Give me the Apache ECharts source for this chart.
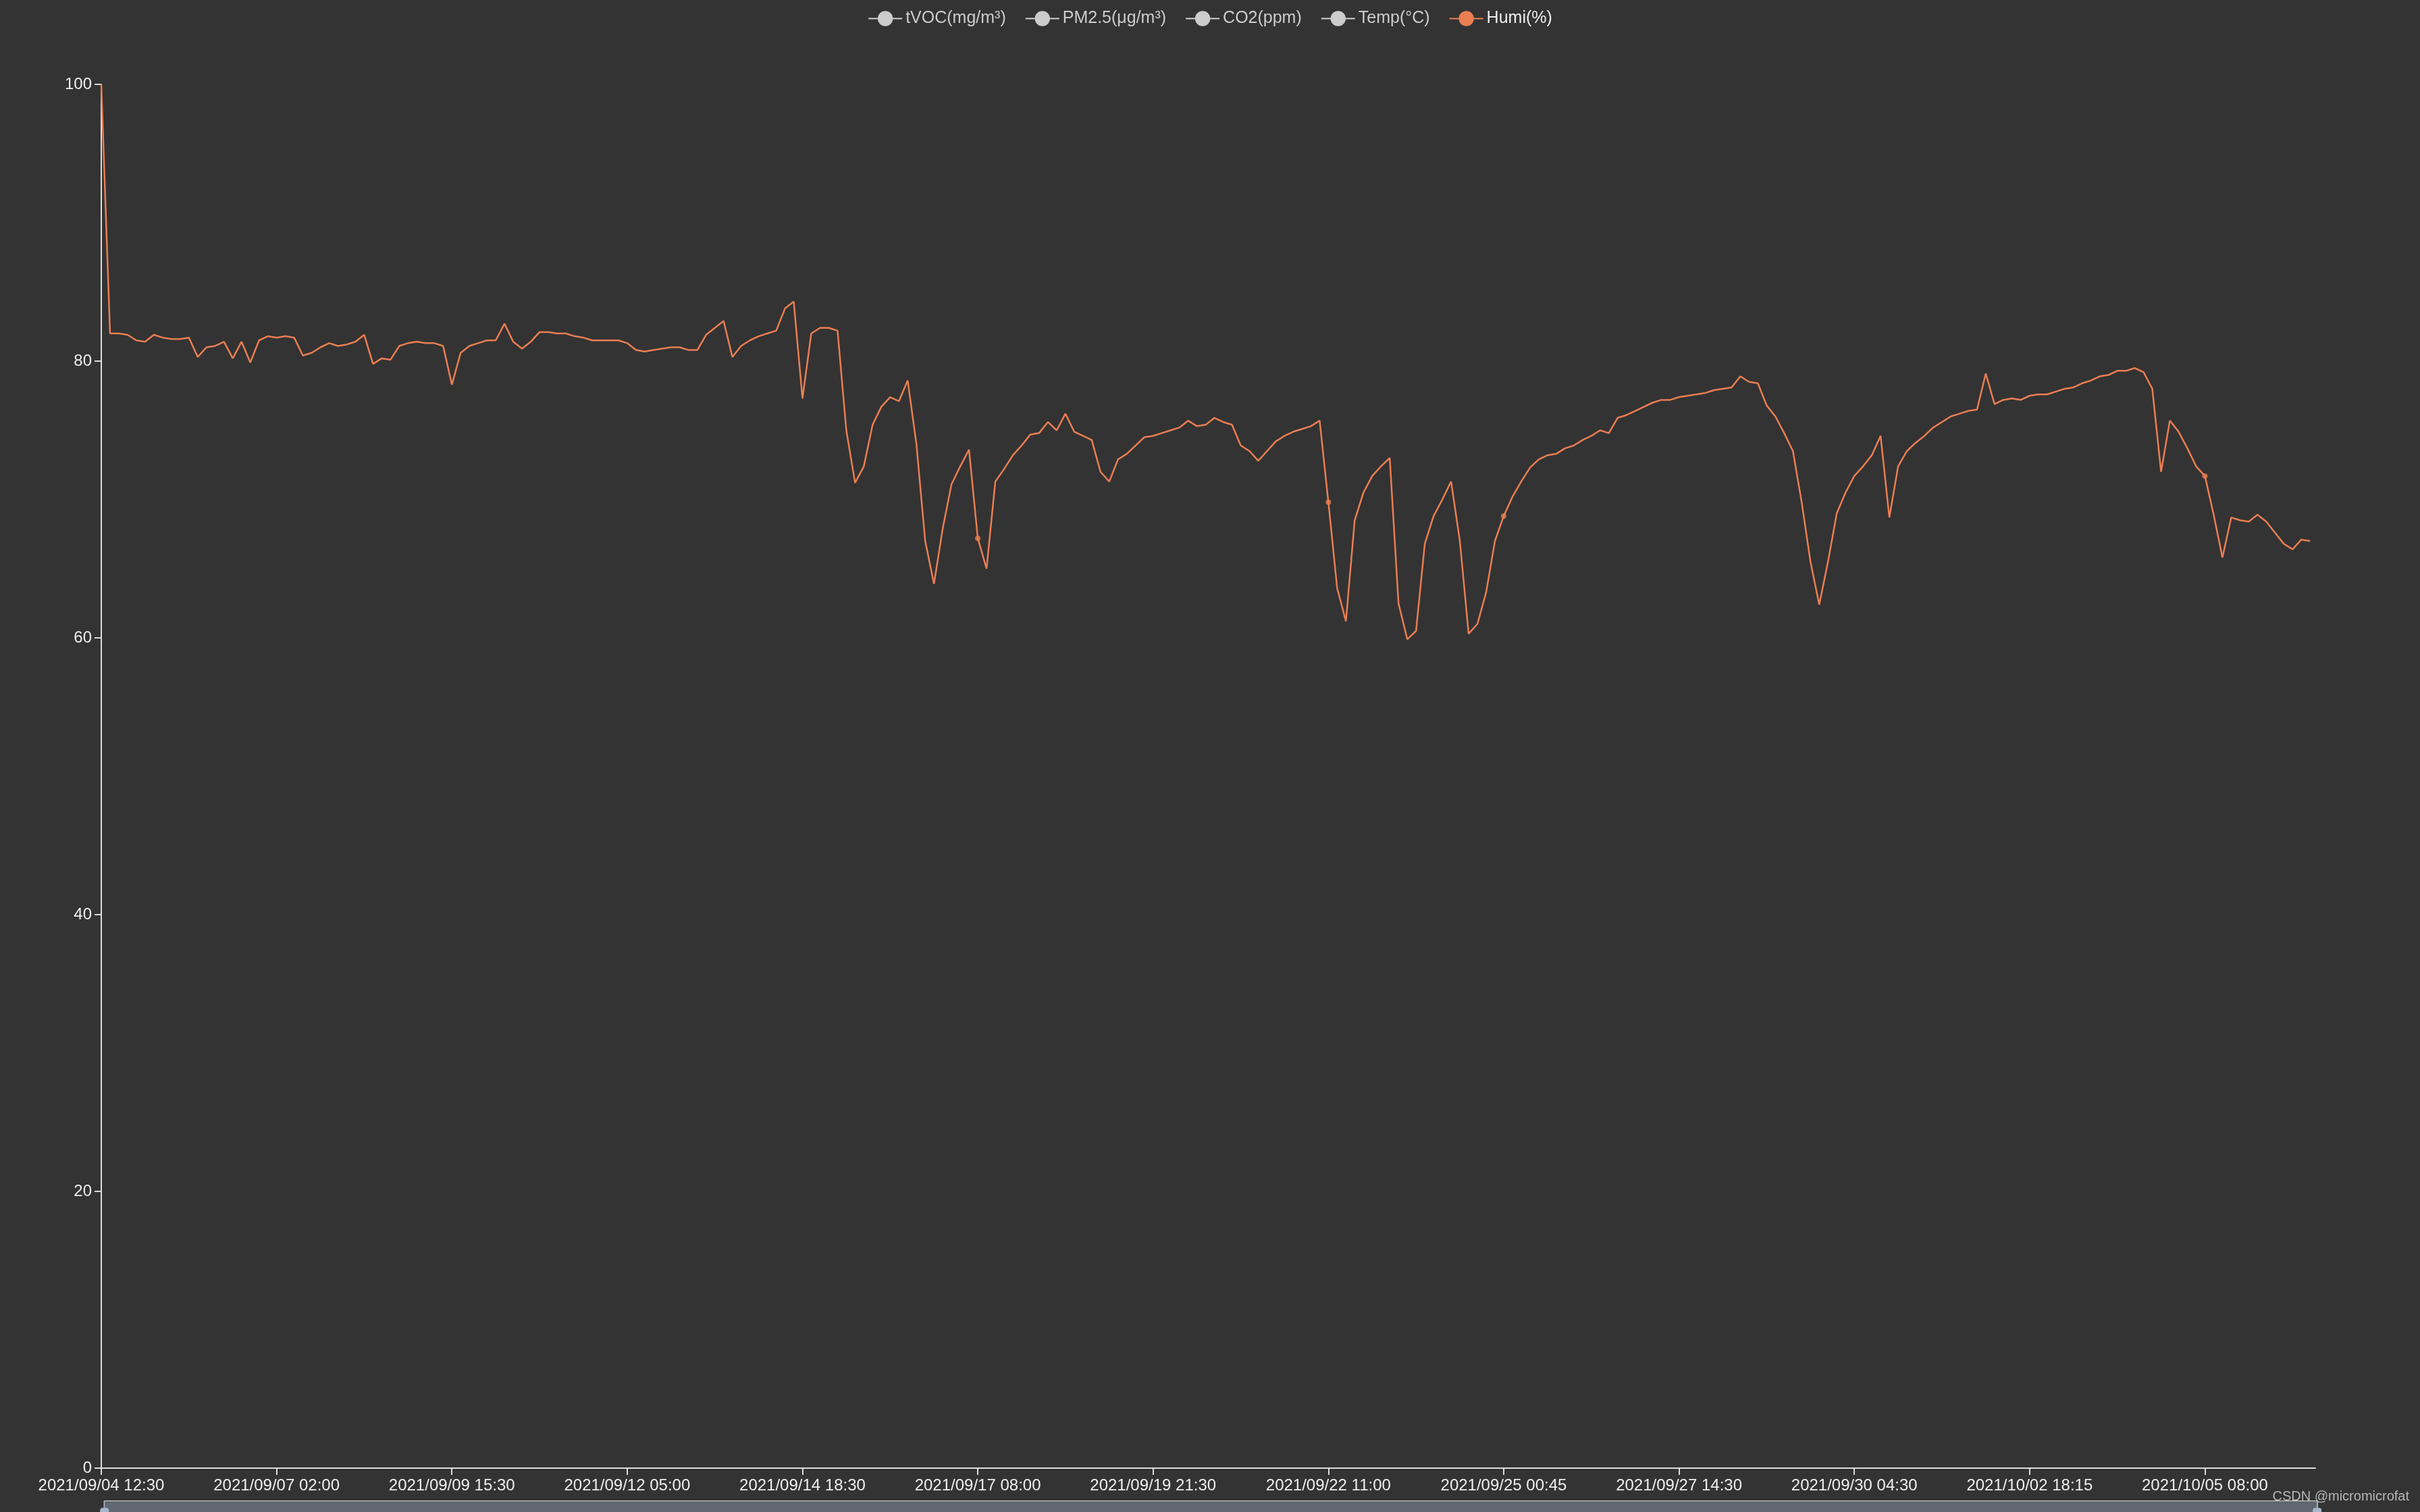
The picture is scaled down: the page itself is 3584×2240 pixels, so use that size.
<!DOCTYPE html>
<html>
<head>
<meta charset="utf-8">
<title>Humi</title>
<script src="https://cdn.jsdelivr.net/npm/echarts@6/dist/echarts.min.js"></script>
<style>
  html, body { margin: 0; padding: 0; background: #333; }
  #chart { width: 3584px; height: 2240px; }
</style>
</head>
<body>
<div id="chart"></div>
<script>
// legend names (only Humi is switched on)
const seriesNames = ["tVOC(mg/m³)", "PM2.5(μg/m³)", "CO2(ppm)", "Temp(°C)", "Humi(%)"];

// x tick labels, one every 20 samples
const xLabels = [
  "2021/09/04 12:30", "2021/09/07 02:00", "2021/09/09 15:30", "2021/09/12 05:00",
  "2021/09/14 18:30", "2021/09/17 08:00", "2021/09/19 21:30", "2021/09/22 11:00",
  "2021/09/25 00:45", "2021/09/27 14:30", "2021/09/30 04:30", "2021/10/02 18:15",
  "2021/10/05 08:00"
];

// humidity samples (%)
const humi = [
  100, 82.0, 82.0, 81.9, 81.5, 81.4, 81.9, 81.7, 81.6, 81.6,
  81.7, 80.3, 81.0, 81.1, 81.4, 80.2, 81.4, 79.9, 81.5, 81.8,
  81.7, 81.8, 81.7, 80.4, 80.6, 81.0, 81.3, 81.1, 81.2, 81.4,
  81.9, 79.8, 80.2, 80.1, 81.1, 81.3, 81.4, 81.3, 81.3, 81.1,
  78.3, 80.6, 81.1, 81.3, 81.5, 81.5, 82.7, 81.4, 80.9, 81.4,
  82.1, 82.1, 82.0, 82.0, 81.8, 81.7, 81.5, 81.5, 81.5, 81.5,
  81.3, 80.8, 80.7, 80.8, 80.9, 81.0, 81.0, 80.8, 80.8, 81.9,
  82.4, 82.9, 80.3, 81.1, 81.5, 81.8, 82.0, 82.2, 83.8, 84.3,
  77.3, 82.0, 82.4, 82.4, 82.2, 75.0, 71.2, 72.4, 75.4, 76.7,
  77.4, 77.1, 78.6, 74.0, 67.0, 63.9, 67.9, 71.1, 72.4, 73.6,
  67.2, 65.0, 71.3, 72.2, 73.2, 73.9, 74.7, 74.8, 75.6, 75.0,
  76.2, 74.9, 74.6, 74.3, 72.0, 71.3, 72.9, 73.3, 73.9, 74.5,
  74.6, 74.8, 75.0, 75.2, 75.7, 75.3, 75.4, 75.9, 75.6, 75.4,
  73.9, 73.5, 72.8, 73.5, 74.2, 74.6, 74.9, 75.1, 75.3, 75.7,
  69.8, 63.6, 61.2, 68.5, 70.5, 71.7, 72.4, 73.0, 62.5, 59.9,
  60.5, 66.8, 68.8, 70.0, 71.3, 67.0, 60.3, 61.0, 63.3, 67.0,
  68.8, 70.2, 71.3, 72.3, 72.9, 73.2, 73.3, 73.7, 73.9, 74.3,
  74.6, 75.0, 74.8, 75.9, 76.1, 76.4, 76.7, 77.0, 77.2, 77.2,
  77.4, 77.5, 77.6, 77.7, 77.9, 78.0, 78.1, 78.9, 78.5, 78.4,
  76.8, 76.0, 74.8, 73.5, 69.8, 65.5, 62.4, 65.5, 69.0, 70.5,
  71.7, 72.4, 73.2, 74.6, 68.7, 72.4, 73.5, 74.1, 74.6, 75.2,
  75.6, 76.0, 76.2, 76.4, 76.5, 79.1, 76.9, 77.2, 77.3, 77.2,
  77.5, 77.6, 77.6, 77.8, 78.0, 78.1, 78.4, 78.6, 78.9, 79.0,
  79.3, 79.3, 79.5, 79.2, 78.0, 72.0, 75.7, 74.9, 73.7, 72.4,
  71.7, 68.9, 65.8, 68.7, 68.5, 68.4, 68.9, 68.4, 67.6, 66.8,
  66.4, 67.1, 67.0
];

// samples that show a visible dot on the line
const dotIndex = [100, 140, 160, 240];

const LABEL_STEP = 20;
const X_MAX = 252.6;

const chart = echarts.init(document.getElementById("chart"));

const font = "'Liberation Sans', Helvetica, Arial, sans-serif";

const legendSelected = {};
seriesNames.forEach((n) => { legendSelected[n] = n === "Humi(%)"; });

const series = seriesNames.slice(0, 4).map((n) => ({
  name: n,
  type: "line",
  symbol: "circle",
  data: []
}));

series.push({
  name: "Humi(%)",
  type: "line",
  symbol: "circle",
  symbolSize: 8,
  showSymbol: false,
  color: "#ea7e53",
  lineStyle: { width: 2.5 },
  data: humi.map((v, i) => [i, v])
});

// the few points drawn with a dot
series.push({
  name: "Humi(%)",
  type: "scatter",
  symbolSize: 8,
  color: "#ea7e53",
  data: dotIndex.map((i) => [i, humi[i]])
});

chart.setOption({
  backgroundColor: "#333",
  animation: false,
  textStyle: { fontFamily: font },
  legend: {
    top: 10,
    itemWidth: 50,
    itemHeight: 28,
    itemGap: 28,
    data: seriesNames,
    selected: legendSelected,
    inactiveColor: "#ccc",
    inactiveBorderColor: "#ccc",
    textStyle: { color: "#eee", fontSize: 25, fontFamily: font }
  },
  grid: { left: 150, right: 155, top: 125, bottom: 65, outerBoundsMode: "none" },
  xAxis: {
    type: "value",
    min: 0,
    max: X_MAX,
    interval: LABEL_STEP,
    splitLine: { show: false },
    axisLine: { lineStyle: { color: "#ddd", width: 2 } },
    axisTick: { length: 10, lineStyle: { color: "#ddd", width: 2 } },
    axisLabel: {
      color: "#eee",
      fontSize: 24,
      margin: 14,
      showMaxLabel: false,
      formatter: (v) => {
        const k = v / LABEL_STEP;
        return Number.isInteger(k) && xLabels[k] ? xLabels[k] : "";
      }
    }
  },
  yAxis: {
    type: "value",
    min: 0,
    max: 100,
    interval: 20,
    splitLine: { show: false },
    axisLine: { show: true, lineStyle: { color: "#ddd", width: 2 } },
    axisTick: { show: true, length: 10, lineStyle: { color: "#ddd", width: 2 } },
    axisLabel: { color: "#eee", fontSize: 24, margin: 14 }
  },
  dataZoom: [{
    type: "slider",
    xAxisIndex: 0,
    filterMode: "none",
    left: 153,
    right: 152,
    top: 2223,
    height: 60,
    showDetail: false,
    showDataShadow: false,
    brushSelect: false,
    moveHandleSize: 0,
    borderColor: "#ddd",
    backgroundColor: "rgba(47,69,84,0)",
    fillerColor: "rgba(167,183,204,0.4)",
    handleStyle: { color: "#a7b7cc", borderColor: "#a7b7cc" }
  }],
  graphic: [{
    type: "text",
    right: 16,
    top: 2207,
    style: {
      text: "CSDN @micromicrofat",
      fill: "rgba(215,215,215,0.8)",
      font: "20px " + font
    }
  }],
  series: series
});
</script>
</body>
</html>
